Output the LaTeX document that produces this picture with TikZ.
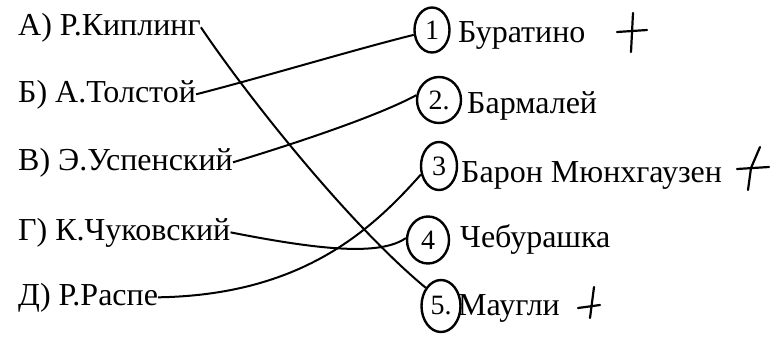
\documentclass[tikz,border=0pt]{standalone}
\usepackage{fontspec}
\setmainfont{Liberation Serif}
\newfontfamily\labfont{Liberation Serif}
\usetikzlibrary{shapes.geometric}
\begin{document}
\begin{tikzpicture}[x=1pt,y=-1pt,
  lab/.style={anchor=base west, inner sep=0pt, font=\labfont\fontsize{32}{32}\selectfont},
  circ/.style={draw, ellipse, line width=2.4pt, inner sep=0pt, font=\labfont\fontsize{28}{28}\selectfont},
  link/.style={line width=2pt},
  tick/.style={line width=2.2pt, line cap=round}]
\useasboundingbox[fill=white] (0,0) rectangle (784,338);
% left column
\node[lab] (la) at (18,35) {А) Р.Киплинг};
\node[lab] (lb) at (18,102) {Б) А.Толстой};
\node[lab] (lc) at (18,170) {В) Э.Успенский};
\node[lab] (ld) at (18,240) {Г) К.Чуковский};
\node[lab] (le) at (18,305) {Д) Р.Распе};
% circled numbers
\node[circ, minimum width=35pt, minimum height=45pt] (c1) at (432,30) {1};
\node[circ, minimum width=44pt, minimum height=46pt] (c2) at (439,100) {2.};
\node[circ, minimum width=36pt, minimum height=48pt] (c3) at (439,166) {3};
\node[circ, minimum width=42pt, minimum height=47pt] (c4) at (428,240) {4};
\node[circ, minimum width=39pt, minimum height=52pt] (c5) at (441,306) {5.};
% right column
\node[lab] (r1) at (458,42) {Буратино};
\node[lab] (r2) at (467,113) {Бармалей};
\node[lab] (r3) at (461,182) {Барон Мюнхгаузен};
\node[lab] (r4) at (460,247) {Чебурашка};
\node[lab] (r5) at (458,315) {Маугли};
% connectors
\draw[link] (la.east) .. controls (250,100) and (350,225) .. (c5.130);
\draw[link] (lb.east) .. controls (260,78) and (360,48) .. (c1.195);
\draw[link] (lc.east) .. controls (300,142) and (380,115) .. (c2.168);
\draw[link] (ld.east) .. controls (320,250) and (380,256) .. (c4.175);
\draw[link] (le.east) .. controls (300,295) and (370,232) .. (c3.205);
% check marks
\draw[tick] (617,32) -- (647,30);
\draw[tick] (633,13) -- (631,52);
\draw[tick] (737,169) -- (769,167);
\draw[tick] (760,147) -- (751,168) -- (748,190);
\draw[tick] (578,308) -- (600,305);
\draw[tick] (594,287) -- (590,318);
\end{tikzpicture}
\end{document}
